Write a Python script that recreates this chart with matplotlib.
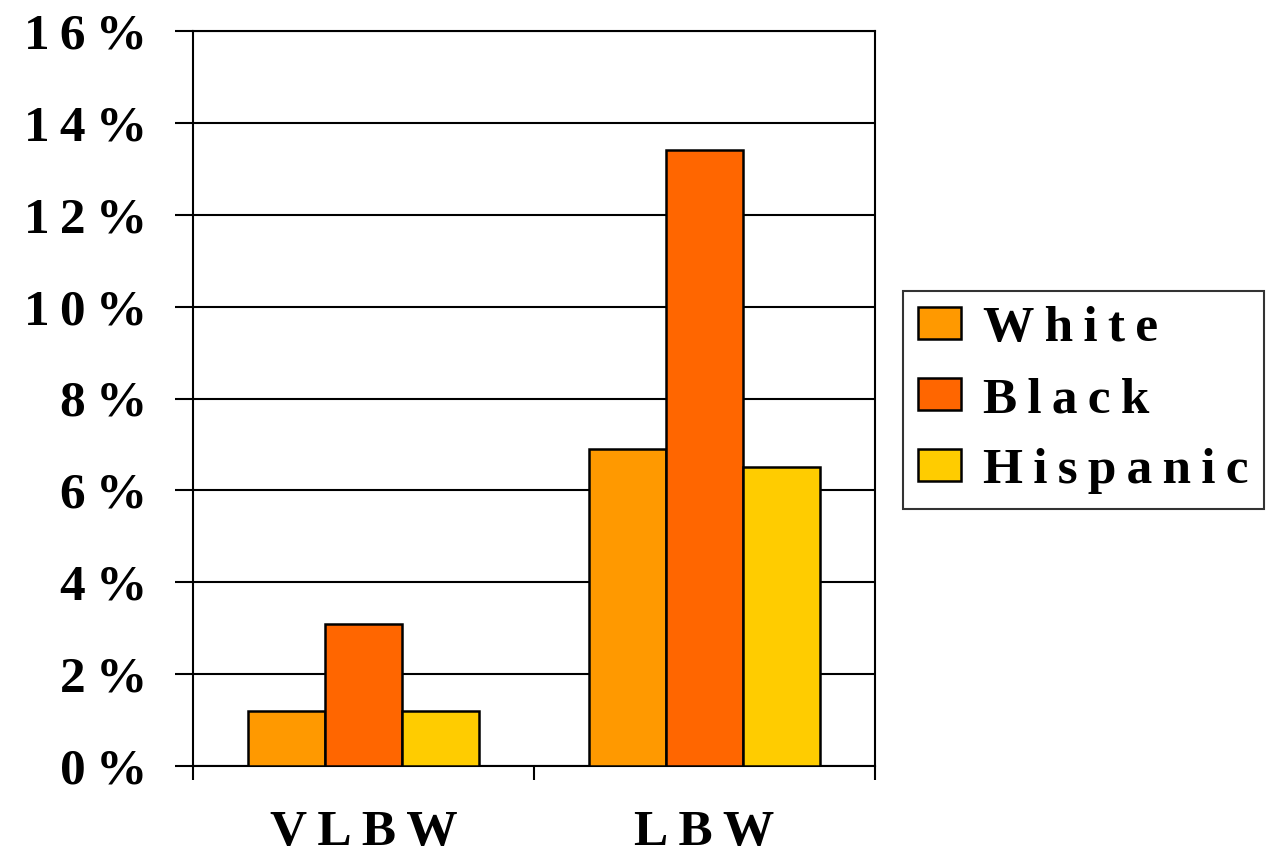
import numpy as np
import matplotlib.pyplot as plt

# Birth weight rates by race (percent)
categories = ['VLBW', 'LBW']
groups = ['White', 'Black', 'Hispanic']
white = [1.2, 6.9]
black = [3.1, 13.4]
hispanic = [1.2, 6.5]
colors = ['#FF9900', '#FF6600', '#FFCC00']
yticks = [0, 2, 4, 6, 8, 10, 12, 14, 16]


def spaced(s, sep='\u2009'):
    # imitate the wide letter spacing of the original
    return sep.join(s)


plt.rcParams['font.family'] = ['Liberation Serif', 'DejaVu Serif']
plt.rcParams['font.weight'] = 'bold'

fig = plt.figure(figsize=(12.81, 8.58), dpi=100)
ax = fig.add_axes([193/1281, 92/858, 682/1281, 735/858])

x = np.arange(len(categories))
w = 0.225
series = [white, black, hispanic]
for i, (vals, c, name) in enumerate(zip(series, colors, groups)):
    ax.bar(x + (i - 1)*w, vals, width=w, color=c, edgecolor='black',
           linewidth=1.8, label=spaced(name), zorder=3)

ax.set_xlim(-0.5, 1.5)
ax.set_ylim(0, 16)
ax.set_yticks(yticks)
ax.set_yticklabels([spaced(f'{v}%') for v in yticks], fontsize=37)
ax.yaxis.grid(True, color='black', linewidth=1.5, zorder=0)

# category ticks sit between groups, labels at the group centres
ax.set_xticks([-0.5, 0.5, 1.5])
ax.set_xticklabels([])
ax.set_xticks(x, minor=True)
ax.set_xticklabels([spaced(c) for c in categories], minor=True, fontsize=37)
ax.tick_params(axis='x', which='minor', length=0, pad=32)
ax.tick_params(axis='x', which='major', length=10, width=1.5, direction='out')
ax.tick_params(axis='y', length=13, width=1.5, pad=20)

for s in ax.spines.values():
    s.set_linewidth(1.5)

leg = fig.legend(loc='upper left', bbox_to_anchor=(903/1281, 1 - 291/858),
                 borderaxespad=0, fontsize=37, frameon=True, fancybox=False,
                 edgecolor='black', handlelength=0.83, handleheight=0.58,
                 handletextpad=0.42, labelspacing=0.48, borderpad=0.3)
leg.get_frame().set_linewidth(1.5)

fig.savefig('out.png', dpi=100)
